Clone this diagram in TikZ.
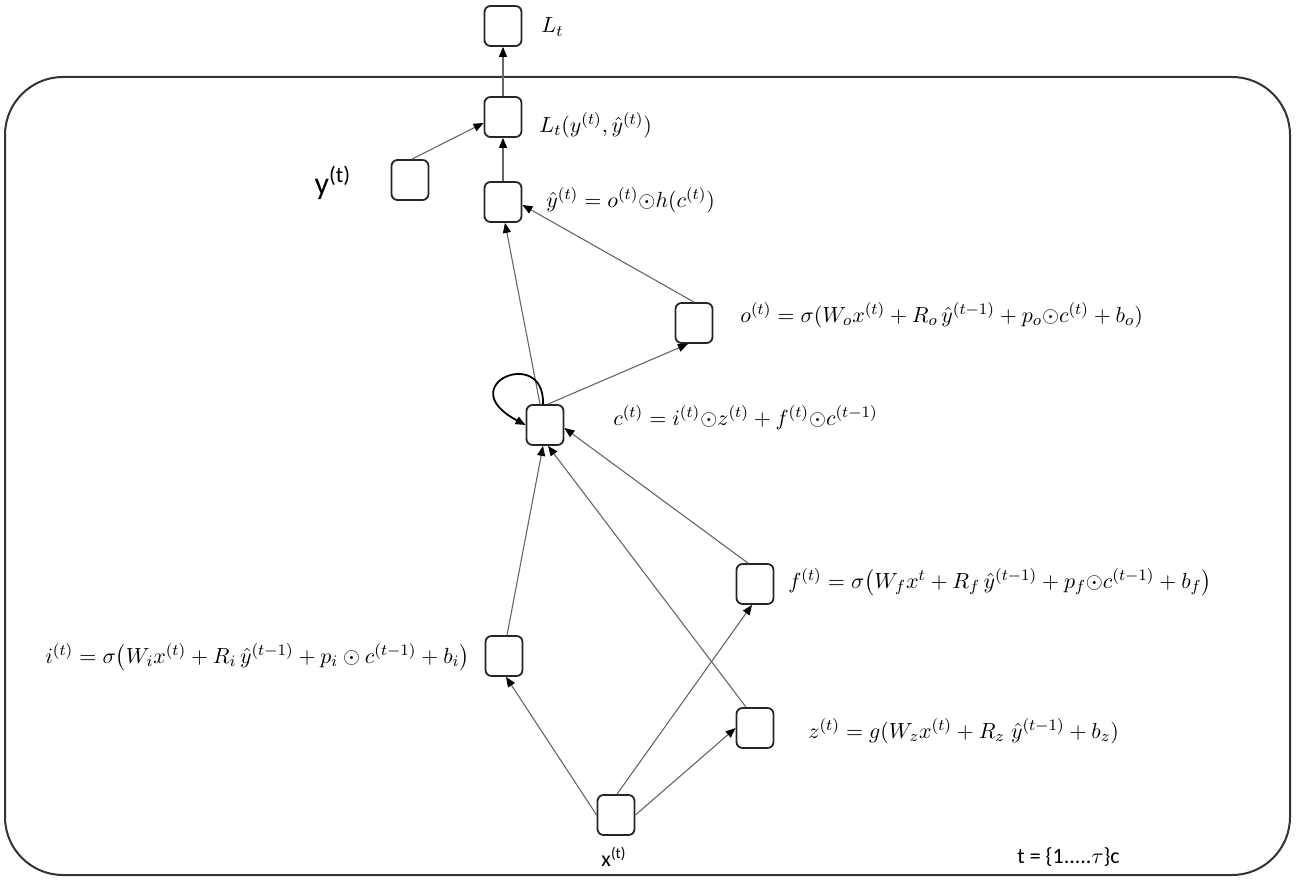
\documentclass[tikz,border=0pt]{standalone}
\usepackage{amsmath}
\usepackage{fontspec}
\newfontfamily\calib{Carlito}
\usetikzlibrary{arrows.meta}
\begin{document}
\begin{tikzpicture}[x=0.5pt,y=-0.5pt,
  box/.style={draw=black!85, line width=0.9pt, rounded corners=3pt, minimum width=18.5pt, minimum height=20pt, inner sep=0pt},
  conn/.style={draw=black!60, line width=0.55pt, -{Triangle[length=5pt,width=4pt,black]}},
  selfloop/.style={draw=black, line width=0.9pt, -{Triangle[length=5pt,width=4pt,black]}},
  eq/.style={anchor=west, inner sep=0pt, font=\fontsize{11}{13}\selectfont},
  sans/.style={inner sep=0pt, font=\calib\fontsize{11}{13}\selectfont}]
\useasboundingbox (0,0) rectangle (1299,881);
\draw[draw=black!80, line width=1pt, rounded corners=29pt] (5,77) rectangle (1290,875);
% boxes
\node[box] (lt) at (503,26) {};
\node[box] (lty) at (503,117) {};
\node[box] (y) at (410,180) {};
\node[box] (yh) at (503,202) {};
\node[box] (o) at (694,323) {};
\node[box] (c) at (545,425) {};
\node[box] (f) at (755,584) {};
\node[box] (i) at (504,656) {};
\node[box] (z) at (755,728) {};
\node[box] (x) at (616,815) {};
% labels
\node[eq] (ltl) at (541,27) {$L_t$};
\node[eq] (ltyl) at (539,125) {$L_t(y^{(t)},\hat{y}^{(t)})$};
\node[eq] (yhl) at (546,200) {$\hat{y}^{(t)} = o^{(t)}{\odot}h(c^{(t)})$};
\node[eq] (ol) at (740,315) {$o^{(t)} = \sigma(W_o x^{(t)} + R_o\,\hat{y}^{(t-1)} + p_o{\odot}c^{(t)} + b_o)$};
\node[eq] (cl) at (613,418) {$c^{(t)} = i^{(t)}{\odot}z^{(t)} + f^{(t)}{\odot}c^{(t-1)}$};
\node[eq] (fl) at (788,582) {$f^{(t)} = \sigma\bigl(W_f x^t + R_f\,\hat{y}^{(t-1)} + p_f{\odot}c^{(t-1)} + b_f\bigr)$};
\node[eq] (il) at (45,657) {$i^{(t)} = \sigma\bigl(W_i x^{(t)} + R_i\,\hat{y}^{(t-1)} + p_i \odot c^{(t-1)} + b_i\bigr)$};
\node[eq] (zl) at (808,731) {$z^{(t)} = g(W_z x^{(t)} + R_z\;\hat{y}^{(t-1)} + b_z)$};
\node[sans, font=\calib\fontsize{16}{18}\selectfont] (yl) at (333,183) {y\textsuperscript{(t)}};
\node[sans] (xl) at (614,857) {x\textsuperscript{(t)}};
\node[sans, anchor=west] (tl) at (1017,857) {t = \{1.....$\tau$\}c};
% connectors
\draw[conn] (lty.north) -- (lt.south);
\draw[conn] ([xshift=1pt]y.north) -- ([yshift=-3pt]lty.west);
\draw[conn] (yh.north) -- (lty.south);
\draw[conn] (o.north) -- ([yshift=-1.5pt]yh.east);
\draw[conn] ([xshift=-2.5pt]c.north) -- ([xshift=1pt]yh.south);
\draw[conn] ([xshift=1.5pt]c.north) -- ([xshift=-3pt]o.south);
\draw[selfloop] ([xshift=-1pt]c.north) .. controls (545,345) and (450,385) .. (c.west);
\draw[conn] ([xshift=1.5pt]i.north) -- ([xshift=-1pt]c.south);
\draw[conn] ([xshift=-4.5pt]z.north) -- ([xshift=1.5pt]c.south);
\draw[conn] ([xshift=-3.5pt]f.north) -- ([yshift=-1.5pt]c.east);
\draw[conn] (x.west) -- ([xshift=1pt]i.south);
\draw[conn] ([xshift=0.5pt]x.north) -- ([xshift=-1.5pt]f.south);
\draw[conn] (x.east) -- (z.west);
\end{tikzpicture}
\end{document}
